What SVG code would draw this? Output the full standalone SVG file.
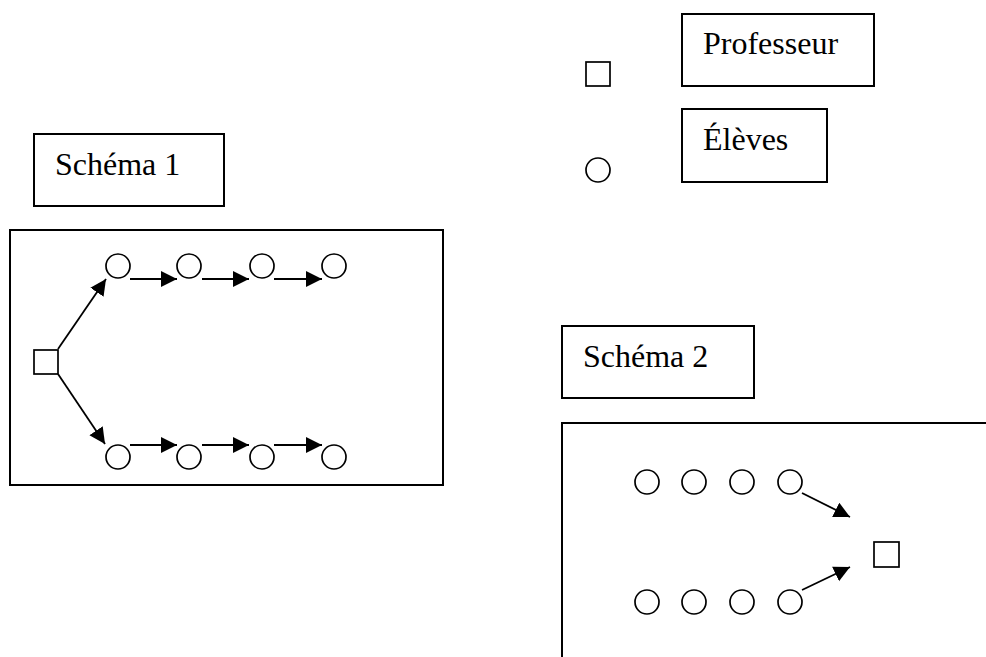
<svg xmlns="http://www.w3.org/2000/svg" width="986" height="657" viewBox="0 0 986 657">
  <style>
    .frame { fill: #fff; stroke: #000; stroke-width: 2; }
    .stu { fill: #fff; stroke: #000; stroke-width: 1.7; }
    .prof { fill: #fff; stroke: #000; stroke-width: 1.7; }
    .label { font-family: "Liberation Serif", "Times New Roman", serif; font-size: 32px; fill: #000; }
    .link { stroke: #000; stroke-width: 1.8; fill: none; marker-end: url(#arrow); }
  </style>
  <defs>
    <marker id="arrow" markerUnits="userSpaceOnUse" markerWidth="18" markerHeight="18" viewBox="0 0 18 18" refX="16" refY="8" orient="auto">
      <path d="M0,0 L16,8 L0,16 Z" fill="#000"/>
    </marker>
  </defs>
  <rect width="986" height="657" fill="#fff"/>

  <!-- legend -->
  <g id="legend-prof-symbol"><rect class="prof" x="586" y="62" width="24" height="24"/></g>
  <g id="legend-prof-label">
    <rect class="frame" x="682" y="14" width="192" height="72"/>
    <text class="label" x="703" y="54">Professeur</text>
  </g>
  <g id="legend-stu-symbol"><circle class="stu" cx="598" cy="170" r="12"/></g>
  <g id="legend-stu-label">
    <rect class="frame" x="682" y="109" width="145" height="73"/>
    <text class="label" x="703" y="150">Élèves</text>
  </g>

  <!-- diagram 1 -->
  <g id="title1">
    <rect class="frame" x="34" y="134" width="190" height="72"/>
    <text class="label" x="55" y="175">Schéma 1</text>
  </g>
  <g id="frame1"><rect class="frame" x="10" y="230" width="433" height="255"/></g>
  <g id="t1"><rect class="prof" x="34" y="350" width="24" height="24"/></g>
  <g id="a1"><circle class="stu" cx="118" cy="266" r="12"/></g>
  <g id="a2"><circle class="stu" cx="189" cy="266" r="12"/></g>
  <g id="a3"><circle class="stu" cx="262" cy="266" r="12"/></g>
  <g id="a4"><circle class="stu" cx="334" cy="266" r="12"/></g>
  <g id="b1"><circle class="stu" cx="118" cy="457" r="12"/></g>
  <g id="b2"><circle class="stu" cx="189" cy="457" r="12"/></g>
  <g id="b3"><circle class="stu" cx="262" cy="457" r="12"/></g>
  <g id="b4"><circle class="stu" cx="334" cy="457" r="12"/></g>

  <!-- diagram 2 -->
  <g id="title2">
    <rect class="frame" x="562" y="326" width="192" height="72"/>
    <text class="label" x="583" y="367">Schéma 2</text>
  </g>
  <g id="frame2"><path class="frame" d="M562,660 L562,423 L990,423" fill="none"/></g>
  <g id="t2"><rect class="prof" x="874" y="542" width="25" height="25"/></g>
  <g id="c1"><circle class="stu" cx="647" cy="482" r="12"/></g>
  <g id="c2"><circle class="stu" cx="694" cy="482" r="12"/></g>
  <g id="c3"><circle class="stu" cx="742" cy="482" r="12"/></g>
  <g id="c4"><circle class="stu" cx="790" cy="482" r="12"/></g>
  <g id="d1"><circle class="stu" cx="647" cy="602" r="12"/></g>
  <g id="d2"><circle class="stu" cx="694" cy="602" r="12"/></g>
  <g id="d3"><circle class="stu" cx="742" cy="602" r="12"/></g>
  <g id="d4"><circle class="stu" cx="790" cy="602" r="12"/></g>

  <g id="connectors">
    <line class="link" x1="58" y1="349" x2="106" y2="279"/>
    <line class="link" x1="58" y1="374" x2="105" y2="444"/>
    <line class="link" x1="130" y1="279" x2="177" y2="279"/>
    <line class="link" x1="202" y1="279" x2="249" y2="279"/>
    <line class="link" x1="274" y1="279" x2="322" y2="279"/>
    <line class="link" x1="130" y1="445" x2="177" y2="445"/>
    <line class="link" x1="202" y1="445" x2="249" y2="445"/>
    <line class="link" x1="274" y1="445" x2="322" y2="445"/>
    <line class="link" x1="802" y1="493" x2="850" y2="517"/>
    <line class="link" x1="802" y1="590" x2="850" y2="567"/>
  </g>
</svg>
